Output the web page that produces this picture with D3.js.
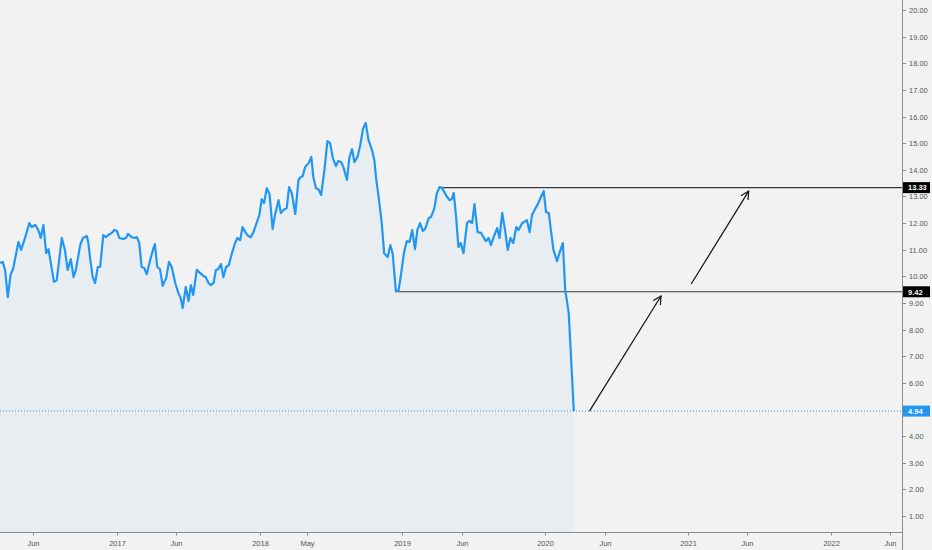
<!DOCTYPE html>
<html>
<head>
<meta charset="utf-8">
<script src="https://cdn.jsdelivr.net/npm/d3@7/dist/d3.min.js"></script>
<style>
  html, body { margin: 0; padding: 0; background: #f2f2f2; }
  svg { display: block; }
  text { font-family: "Liberation Sans", Arial, sans-serif; }
</style>
</head>
<body>
<svg id="chart" width="932" height="550"></svg>
<script>
// ---- data ----
const dates = [
"2016-03-08","2016-03-15","2016-03-21","2016-03-28","2016-04-04","2016-04-11","2016-04-24","2016-05-01","2016-05-11","2016-05-22",
"2016-05-28","2016-06-06","2016-06-14","2016-06-20","2016-06-27","2016-07-04","2016-07-10","2016-07-24","2016-07-31","2016-08-13",
"2016-08-21","2016-08-28","2016-09-05","2016-09-12","2016-09-18","2016-09-29","2016-10-06","2016-10-16","2016-10-20","2016-10-24",
"2016-10-31","2016-11-06","2016-11-13","2016-11-19","2016-11-27","2016-12-04","2016-12-10","2016-12-19","2016-12-25","2017-01-01",
"2017-01-07","2017-01-17","2017-01-24","2017-01-29","2017-02-08","2017-02-14","2017-02-21","2017-02-27","2017-03-05","2017-03-12",
"2017-03-18","2017-03-27","2017-04-03","2017-04-08","2017-04-14","2017-04-21","2017-04-28","2017-05-07","2017-05-14","2017-05-21",
"2017-05-30","2017-06-07","2017-06-13","2017-06-18","2017-06-26","2017-07-03","2017-07-09","2017-07-15","2017-07-24","2017-08-02",
"2017-08-10","2017-08-16","2017-08-23","2017-08-29","2017-09-05","2017-09-11","2017-09-17","2017-09-24","2017-09-30","2017-10-07",
"2017-10-14","2017-10-22","2017-10-30","2017-11-05","2017-11-12","2017-11-18","2017-11-25","2017-12-03","2017-12-09","2017-12-16",
"2017-12-25","2017-12-31","2018-01-06","2018-01-12","2018-01-19","2018-01-26","2018-02-03","2018-02-09","2018-02-18","2018-02-24",
"2018-03-03","2018-03-11","2018-03-17","2018-03-24","2018-04-02","2018-04-10","2018-04-16","2018-04-21","2018-04-27","2018-05-06",
"2018-05-13","2018-05-18","2018-05-25","2018-05-31","2018-06-07","2018-06-16","2018-06-23","2018-06-30","2018-07-07","2018-07-15",
"2018-07-21","2018-07-28","2018-08-03","2018-08-12","2018-08-18","2018-08-25","2018-08-31","2018-09-08","2018-09-15","2018-09-22",
"2018-09-29","2018-10-06","2018-10-15","2018-10-21","2018-10-26","2018-11-01","2018-11-09","2018-11-15","2018-11-24","2018-12-01",
"2018-12-07","2018-12-15","2018-12-22","2018-12-28","2019-01-05","2019-01-12","2019-01-19","2019-01-26","2019-02-02","2019-02-08",
"2019-02-15","2019-02-22","2019-02-28","2019-03-09","2019-03-15","2019-03-23","2019-03-30","2019-04-06","2019-04-12","2019-04-18",
"2019-04-25","2019-05-01","2019-05-07","2019-05-12","2019-05-18","2019-05-24","2019-05-30","2019-06-06","2019-06-15","2019-06-21",
"2019-06-28","2019-07-04","2019-07-12","2019-07-21","2019-07-27","2019-08-02","2019-08-09","2019-08-15","2019-08-22","2019-08-31",
"2019-09-06","2019-09-13","2019-09-21","2019-09-27","2019-10-04","2019-10-11","2019-10-19","2019-10-25","2019-11-03","2019-11-08",
"2019-11-15","2019-11-22","2019-11-28","2019-12-07","2019-12-13","2019-12-21","2019-12-28","2020-01-03","2020-01-10","2020-01-16",
"2020-01-22","2020-01-31","2020-02-07","2020-02-15","2020-02-21","2020-03-01","2020-03-14"
];
const prices = [
10.50,10.54,10.24,9.22,10.05,10.31,11.29,10.99,11.44,12.00,
11.85,11.93,11.74,11.44,11.93,10.87,11.02,9.79,9.86,11.44,
10.99,10.24,10.65,9.97,10.24,11.17,11.44,11.51,11.25,10.72,
9.97,9.75,10.35,10.35,11.55,11.47,11.55,11.63,11.74,11.70,
11.44,11.40,11.44,11.59,11.47,11.44,11.47,11.25,10.35,10.31,
10.08,10.61,10.99,11.21,10.35,10.27,9.64,9.94,10.54,10.35,
9.75,9.37,9.18,8.81,9.60,9.07,9.67,9.30,10.24,10.12,
10.01,9.97,9.75,9.67,9.75,10.24,10.27,10.46,9.97,10.35,
10.42,10.87,11.25,11.44,11.36,11.85,11.66,11.51,11.47,11.66,
12.04,12.30,12.90,12.75,13.31,13.09,11.78,12.30,12.86,12.38,
12.49,12.56,13.35,13.13,12.34,13.62,13.73,13.77,14.10,14.25,
14.48,13.73,13.31,13.27,13.05,14.07,15.08,15.00,14.44,14.14,
14.33,14.29,14.10,13.62,14.44,14.78,14.29,14.48,14.93,15.53,
15.76,15.12,14.74,14.37,13.62,12.98,12.00,10.87,10.72,11.17,
10.84,9.45,9.47,10.05,10.91,11.32,11.29,11.74,11.02,11.74,
12.00,11.70,11.78,12.19,12.23,12.53,13.13,13.35,13.33,13.16,
12.98,12.86,12.90,13.13,12.23,11.10,11.25,10.87,12.00,12.08,
12.00,12.71,11.66,11.63,11.47,11.32,11.44,11.17,11.47,11.81,
11.44,12.38,11.66,10.99,11.44,11.25,11.85,11.74,12.00,12.04,
12.11,11.66,12.30,12.56,12.71,12.98,13.20,12.41,12.38,11.66,
10.99,10.57,10.91,11.25,9.49,8.62,4.94
];
const lastPrice = 4.94;

// horizontal level lines: start date and price
const levelStarts = ["2019-04-02", "2018-12-13"];
const levelPrices = [13.33, 9.42];

// arrows drawn on the chart: [start date, start price, end date, end price]
const arrowStartDates = ["2020-04-23", "2021-01-08"];
const arrowStartPrices = [4.94, 9.71];
const arrowEndDates = ["2020-10-23", "2021-06-04"];
const arrowEndPrices = [9.26, 13.20];

// axis ticks
const xTickDates = ["2016-06-01","2017-01-01","2017-06-01","2018-01-01","2018-05-01","2019-01-01","2019-06-01",
                    "2020-01-01","2020-06-01","2021-01-01","2021-06-01","2022-01-01","2022-06-01"];
const xTickLabels = ["Jun","2017","Jun","2018","May","2019","Jun","2020","Jun","2021","Jun","2022","Jun"];
const yTickValues = [1,2,3,4,5,6,7,8,9,10,11,12,13,14,15,16,17,18,19,20];

// ---- drawing ----
const parse = d3.utcParse("%Y-%m-%d");
const W = 932, H = 550;
const plotRight = 902, axisY = 532;

const svg = d3.select("#chart");
svg.append("rect").attr("width", W).attr("height", H).attr("fill", "#f2f2f2");

const x = d3.scaleUtc()
  .domain([parse("2016-03-08"), parse("2022-07-01")])
  .range([0, plotRight]);
const y = d3.scaleLinear().domain([1, 20]).range([516, 10]);

const data = dates.map((d, i) => ({ date: parse(d), value: prices[i] }));

const defs = svg.append("defs");
defs.append("clipPath").attr("id", "plotclip")
  .append("rect").attr("x", 0).attr("y", 0).attr("width", plotRight).attr("height", axisY);

const g = svg.append("g").attr("clip-path", "url(#plotclip)");

// area
const area = d3.area()
  .x(d => x(d.date))
  .y0(axisY)
  .y1(d => y(d.value));
g.append("path").datum(data)
  .attr("d", area)
  .attr("fill", "#e8edf2");

// last price dotted line
g.append("line")
  .attr("x1", 0).attr("x2", plotRight)
  .attr("y1", y(lastPrice)).attr("y2", y(lastPrice))
  .attr("stroke", "#2196f3").attr("stroke-width", 1)
  .attr("stroke-dasharray", "1,2");

// level lines
levelPrices.forEach((p, i) => {
  g.append("line")
    .attr("x1", x(parse(levelStarts[i]))).attr("x2", plotRight)
    .attr("y1", y(p)).attr("y2", y(p))
    .attr("stroke", "#3a3a3a").attr("stroke-width", 1.1);
});

// price line
const line = d3.line().x(d => x(d.date)).y(d => y(d.value));
g.append("path").datum(data)
  .attr("d", line)
  .attr("fill", "none")
  .attr("stroke", "#2196f3")
  .attr("stroke-width", 2.2)
  .attr("stroke-linejoin", "round");

// arrows
arrowStartDates.forEach((sd, i) => {
  const x1 = x(parse(sd)), y1 = y(arrowStartPrices[i]);
  const x2 = x(parse(arrowEndDates[i])), y2 = y(arrowEndPrices[i]);
  g.append("line")
    .attr("x1", x1).attr("y1", y1).attr("x2", x2).attr("y2", y2)
    .attr("stroke", "#111").attr("stroke-width", 1.2);
  const ang = Math.atan2(y2 - y1, x2 - x1);
  const len = 9, spread = Math.PI / 6.5;
  const hx1 = x2 - len * Math.cos(ang - spread), hy1 = y2 - len * Math.sin(ang - spread);
  const hx2 = x2 - len * Math.cos(ang + spread), hy2 = y2 - len * Math.sin(ang + spread);
  g.append("path")
    .attr("d", `M${hx1},${hy1}L${x2},${y2}L${hx2},${hy2}`)
    .attr("fill", "none").attr("stroke", "#111").attr("stroke-width", 1.2);
});

// bottom axis
const xAxisG = svg.append("g");
xAxisG.append("line")
  .attr("x1", 0).attr("x2", plotRight + 1).attr("y1", axisY + 0.5).attr("y2", axisY + 0.5)
  .attr("stroke", "#8c8c8c").attr("stroke-width", 1);
xTickDates.forEach((d, i) => {
  const xx = Math.round(x(parse(d))) + 0.5;
  xAxisG.append("line")
    .attr("x1", xx).attr("x2", xx).attr("y1", axisY).attr("y2", axisY + 3.5)
    .attr("stroke", "#8c8c8c");
  xAxisG.append("text")
    .attr("x", xx).attr("y", axisY + 13.5)
    .attr("text-anchor", "middle")
    .attr("font-size", 7.5)
    .attr("fill", "#555")
    .text(xTickLabels[i]);
});

// right axis
const yAxisG = svg.append("g");
yAxisG.append("line")
  .attr("x1", plotRight + 0.5).attr("x2", plotRight + 0.5).attr("y1", 0).attr("y2", H)
  .attr("stroke", "#8c8c8c").attr("stroke-width", 1);
yTickValues.forEach(v => {
  const yy = Math.round(y(v)) + 0.5;
  yAxisG.append("line")
    .attr("x1", plotRight).attr("x2", plotRight + 4).attr("y1", yy).attr("y2", yy)
    .attr("stroke", "#8c8c8c");
  yAxisG.append("text")
    .attr("x", plotRight + 7).attr("y", yy + 2.7)
    .attr("font-size", 7.5)
    .attr("fill", "#555")
    .text(d3.format(".2f")(v));
});

// price labels on the axis
const labelVals = [levelPrices[0], levelPrices[1], lastPrice];
const labelFills = ["#000000", "#000000", "#2196f3"];
labelVals.forEach((v, i) => {
  const yy = y(v);
  yAxisG.append("rect")
    .attr("x", plotRight + 1).attr("y", yy - 5.5)
    .attr("width", 27).attr("height", 11)
    .attr("fill", labelFills[i]);
  yAxisG.append("text")
    .attr("x", plotRight + 6).attr("y", yy + 2.8)
    .attr("font-size", 7.5)
    .attr("font-weight", "bold")
    .attr("fill", "#ffffff")
    .text(d3.format(".2f")(v));
});
</script>
</body>
</html>
